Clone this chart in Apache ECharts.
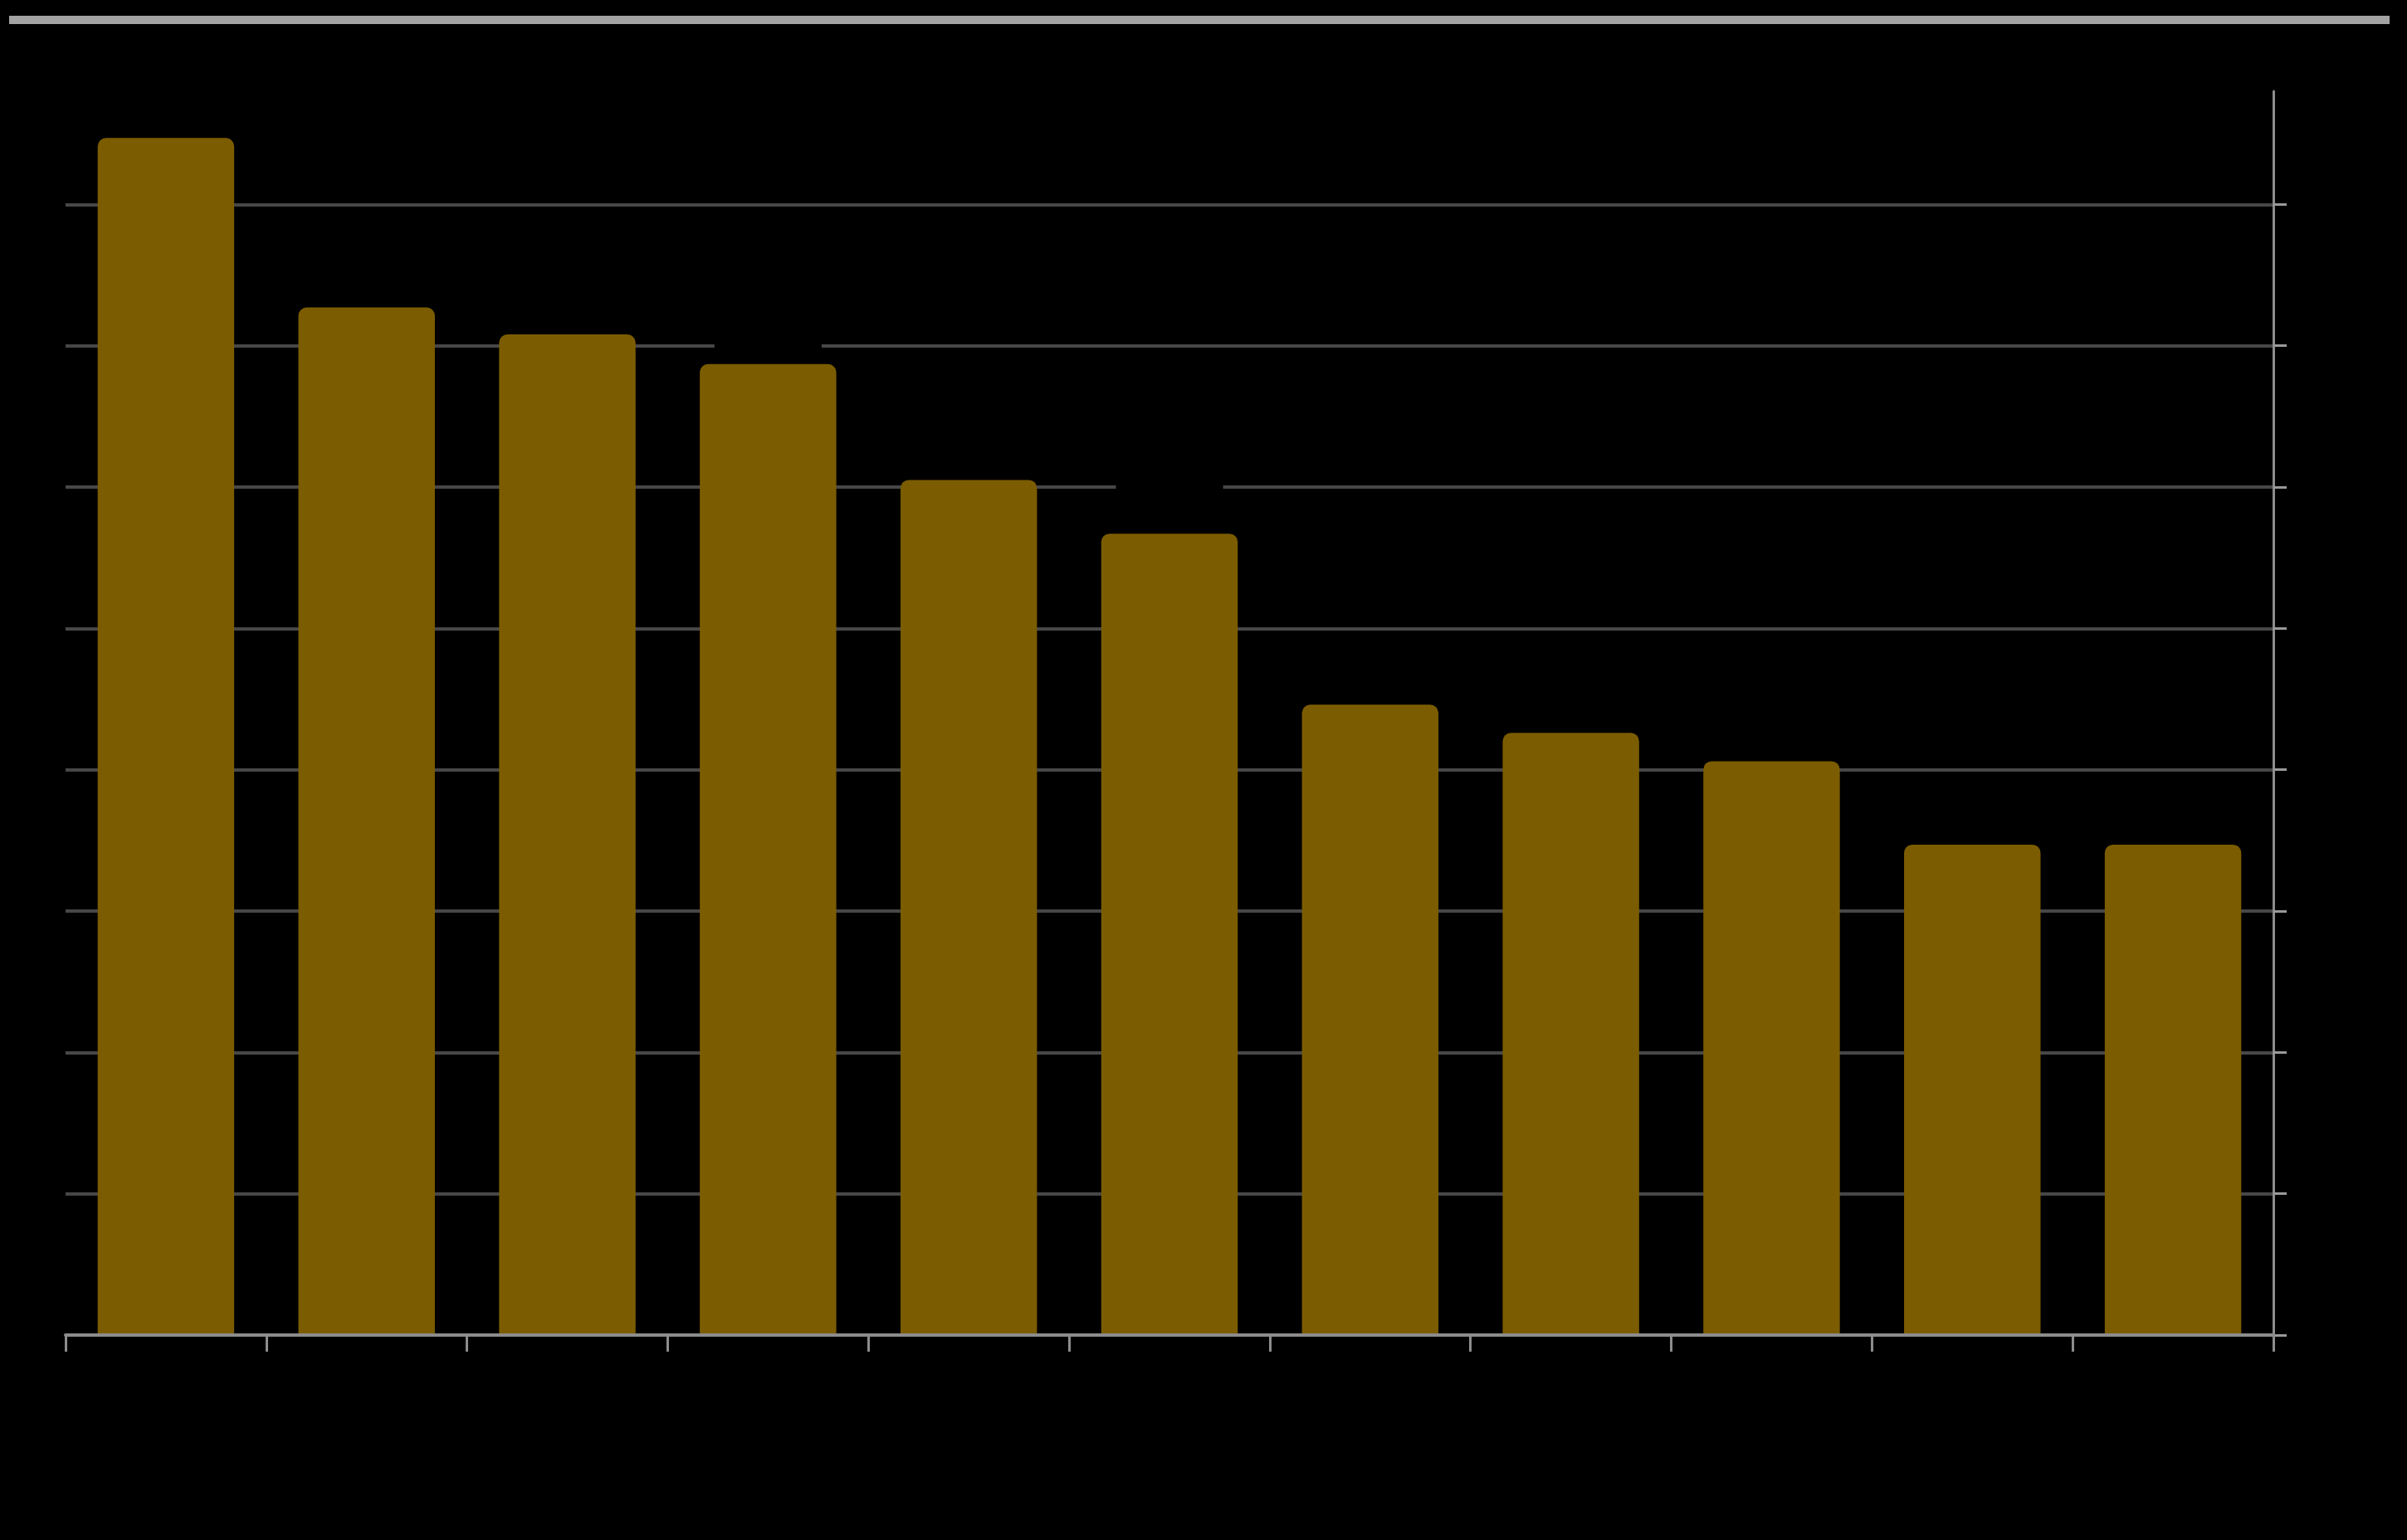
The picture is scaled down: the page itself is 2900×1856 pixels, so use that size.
<!DOCTYPE html>
<html>
<head>
<meta charset="utf-8">
<style>
  html, body { margin: 0; padding: 0; background: #000; }
  #chart { width: 2900px; height: 1856px; }
</style>
<script src="https://cdn.jsdelivr.net/npm/echarts@6/dist/echarts.min.js"></script>
</head>
<body>
<div id="chart"></div>
<script>
// Data (labels in the reference are drawn black on black, so unreadable)
const categories = ['A', 'B', 'C', 'D', 'E', 'F', 'G', 'H', 'I', 'J', 'K'];
const values = [84.7, 72.7, 70.8, 68.7, 60.5, 56.7, 44.6, 42.6, 40.6, 34.7, 34.7];
const yTicks = [0, 10, 20, 30, 40, 50, 60, 70, 80];

const chart = echarts.init(document.getElementById('chart'), null, { renderer: 'canvas' });
chart.setOption({
  backgroundColor: '#000000',
  animation: false,
  graphic: [{
    type: 'rect',
    left: 11, top: 19,
    shape: { width: 2868, height: 10 },
    style: { fill: '#a3a3a3' },
    z: 10
  }],
  grid: { left: 79, right: 161, top: 110, bottom: 247, containLabel: false },
  xAxis: {
    type: 'category',
    data: categories,
    boundaryGap: true,
    axisLine: { show: true, lineStyle: { color: '#8c8c8c', width: 4 } },
    axisTick: { show: true, length: 20, lineStyle: { color: '#8c8c8c', width: 3 } },
    axisLabel: { color: '#000000', fontSize: 40, margin: 30 },
    z: 5
  },
  yAxis: {
    type: 'value',
    position: 'right',
    min: 0,
    max: 88,
    interval: 10,
    axisLine: { show: true, lineStyle: { color: '#8c8c8c', width: 3 } },
    axisTick: { show: true, length: 16, customValues: yTicks, lineStyle: { color: '#999999', width: 3 } },
    axisLabel: { color: '#000000', fontSize: 40, margin: 24, customValues: yTicks },
    splitLine: { show: true, lineStyle: { color: '#474747', width: 4 } }
  },
  series: [{
    type: 'bar',
    data: values,
    barWidth: '68%',
    itemStyle: { color: '#7b5c00', borderRadius: [10, 10, 0, 0] },
    label: {
      show: true,
      position: 'top',
      distance: 8,
      color: '#000000',
      fontSize: 40,
      fontFamily: 'DejaVu Sans',
      backgroundColor: '#000000',
      padding: [6, 20]
    },
    z: 2
  }]
});
</script>
</body>
</html>
